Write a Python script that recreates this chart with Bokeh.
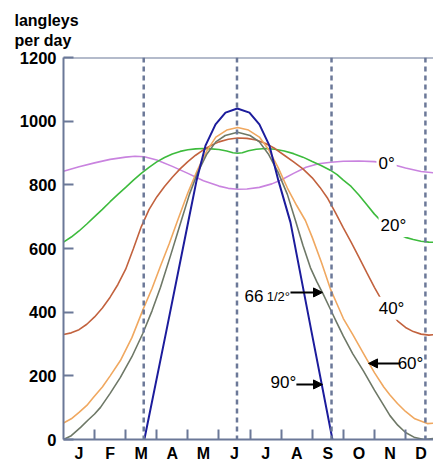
from bokeh.plotting import figure
from bokeh.models import (Range1d, FixedTicker, Span, Label, Arrow, NormalHead)
from bokeh.embed import file_html
from bokeh.resources import INLINE

# ---------------- data (x in months from Jan 1, y in langleys/day) -------------
months = ["J", "F", "M", "A", "M", "J", "J", "A", "S", "O", "N", "D"]
y_ticks = [0, 200, 400, 600, 800, 1000, 1200]
solstice_equinox = [2.58, 5.58, 8.62, 11.64]

lat0_x = [0, 0.5, 1.0, 1.5, 2.0, 2.3, 2.6, 3.0, 3.5, 4.0, 4.5, 5.0, 5.3, 5.6, 5.9,
          6.3, 6.7, 7.0, 7.4, 7.8, 8.2, 8.6, 9.0, 9.5, 10.0, 10.5, 11.0, 11.5, 12.0]
lat0_y = [843, 857, 869, 880, 887, 890, 888, 878, 858, 836, 813, 796, 789, 786, 787,
          792, 803, 815, 836, 855, 866, 871, 874, 875, 873, 866, 853, 842, 837]

lat20_x = [0, 0.25, 0.5, 0.75, 1.0, 1.25, 1.5, 1.75, 2.0, 2.25, 2.5, 2.75, 3.0, 3.25,
           3.5, 3.75, 4.0, 4.25, 4.5, 4.75, 5.0, 5.25, 5.45, 5.6, 5.75, 5.95, 6.2,
           6.5, 6.8, 7.1, 7.4, 7.7, 8.0, 8.3, 8.58, 8.8, 9.0, 9.25, 9.5, 9.75, 10.0,
           10.25, 10.5, 10.75, 11.0, 11.25, 11.5, 11.75, 12.0]
lat20_y = [620, 636, 655, 677, 700, 723, 747, 770, 792, 815, 836, 855, 872, 886,
           897, 905, 910, 913, 914, 913, 911, 906, 901, 899, 901, 907, 912,
           914, 912, 906, 898, 887, 873, 860, 846, 832, 815, 795, 768, 738, 708,
           683, 662, 646, 635, 628, 623, 620, 619]

lat40_x = [0, 0.25, 0.5, 0.75, 1.0, 1.25, 1.5, 1.75, 2.0, 2.25, 2.5, 2.75, 3.0, 3.25,
           3.5, 3.75, 4.0, 4.25, 4.5, 4.75, 5.0, 5.3, 5.6, 5.9, 6.2, 6.5, 6.8, 7.1,
           7.4, 7.7, 8.0, 8.25, 8.5, 8.75, 9.0, 9.25, 9.5, 9.75, 10.0, 10.25, 10.5,
           10.75, 11.0, 11.25, 11.5, 11.75, 12.0]
lat40_y = [330, 335, 345, 362, 385, 413, 447, 487, 535, 600, 668, 722, 762, 795,
           824, 850, 873, 893, 910, 924, 935, 943, 947, 946, 941, 930, 914, 893,
           872, 850, 822, 792, 757, 712, 665, 620, 573, 525, 478, 435, 400,
           372, 352, 339, 331, 328, 330]

lat60_x = [0, 0.25, 0.5, 0.75, 0.96, 1.25, 1.5, 1.83, 2.2, 2.57, 2.85, 3.12, 3.4,
           3.67, 4.0, 4.3, 4.6, 4.9, 5.25, 5.6, 5.95, 6.3, 6.6, 6.9, 7.2, 7.5, 7.78,
           8.0, 8.3, 8.58, 8.8, 9.0, 9.3, 9.65, 10.0, 10.3, 10.5, 10.74, 11.0, 11.3,
           11.7, 12.0]
lat60_y = [52, 65, 85, 107, 132, 165, 200, 248, 320, 411, 475, 545, 615,
           688, 775, 845, 905, 950, 972, 980, 972, 950, 910, 855, 790, 735, 688,
           635, 555, 474, 425, 380, 330, 270, 210, 165, 140, 113, 88, 65,
           50, 52]

lat66_x = [0, 0.25, 0.55, 0.8, 1.0, 1.19, 1.5, 1.83, 2.2, 2.55, 2.85, 3.12, 3.45,
           3.79, 4.05, 4.3, 4.6, 4.9, 5.2, 5.6, 6.0, 6.3, 6.6, 6.9, 7.2, 7.46, 7.7,
           7.94, 8.15, 8.36, 8.58, 8.8, 9.0, 9.3, 9.65, 10.0, 10.25, 10.5, 10.75,
           11.0, 11.3, 11.6, 12.0]
lat66_y = [0, 12, 38, 62, 80, 101, 145, 195, 260, 333, 405, 478, 580,
           688, 770, 835, 895, 935, 955, 965, 955, 935, 895, 840, 770, 688, 610,
           540, 495, 455, 410, 365, 325, 270, 215, 155, 115, 75, 45,
           22, 6, 0, 4]

lat90_x = [2.6, 3.31, 4.02, 4.28, 4.57, 4.89, 5.21, 5.59, 5.98, 6.30, 6.62, 6.91,
           7.30, 7.97, 8.65]
lat90_y = [0, 342, 688, 814, 924, 990, 1027, 1040, 1027, 990, 924, 814,
           682, 342, 0]

AXIS = "#6b7898"
FONT = "Liberation Sans"

p = figure(width=433, height=464, output_backend="svg", toolbar_location=None,
           x_range=Range1d(0, 11.9), y_range=Range1d(0, 1200),
           min_border_left=63, min_border_right=0, min_border_top=57,
           min_border_bottom=25)
p.outline_line_color = None
p.grid.visible = False
p.background_fill_color = "white"
p.border_fill_color = "white"

# title as y-axis unit label
p.title.text = "langleys\nper day"
p.title.align = "left"
p.title.offset = -49
p.title.standoff = 17
p.title.text_font = FONT
p.title.text_font_size = "16px"
p.title.text_font_style = "bold"
p.title.text_color = "black"
p.title.text_line_height = 1.2

# x axis
xa = p.xaxis[0]
xa.ticker = FixedTicker(ticks=[i + 0.5 for i in range(12)],
                        minor_ticks=[float(i) for i in range(1, 12)])
xa.major_label_overrides = {i + 0.5: m for i, m in enumerate(months)}
xa.major_tick_in = 0
xa.major_tick_out = 0
xa.minor_tick_in = 10
xa.minor_tick_out = 0
xa.minor_tick_line_color = AXIS
xa.minor_tick_line_width = 2
xa.axis_line_color = AXIS
xa.axis_line_width = 2
xa.major_label_standoff = 5
xa.major_label_text_font = FONT
xa.major_label_text_font_size = "16px"
xa.major_label_text_font_style = "bold"
xa.major_label_text_color = "black"

# y axis
ya = p.yaxis[0]
ya.ticker = FixedTicker(ticks=y_ticks)
ya.major_tick_in = 10
ya.major_tick_out = 0
ya.minor_tick_line_color = None
ya.major_tick_line_color = AXIS
ya.major_tick_line_width = 2
ya.axis_line_color = AXIS
ya.axis_line_width = 2
ya.major_label_standoff = 7
ya.major_label_text_font = FONT
ya.major_label_text_font_size = "16.5px"
ya.major_label_text_font_style = "bold"
ya.major_label_text_color = "black"

# top border
p.add_layout(Span(location=1200, dimension="width", line_color=AXIS, line_width=2))

# solstice / equinox dashed lines
for loc in solstice_equinox:
    p.add_layout(Span(location=loc, dimension="height", line_color=AXIS,
                      line_width=2.5, line_dash="5 4"))

# curves
p.line(lat0_x, lat0_y, line_color="#c983df", line_width=1.6)
p.line(lat20_x, lat20_y, line_color="#3dbb3d", line_width=1.6)
p.line(lat40_x, lat40_y, line_color="#c2623e", line_width=1.6)
p.line(lat60_x, lat60_y, line_color="#f0a860", line_width=1.6)
p.line(lat66_x, lat66_y, line_color="#6e7867", line_width=1.6)
p.line(lat90_x, lat90_y, line_color="#1c1c9c", line_width=2)

# labels
def lab(x, y, t, size="17px", align="center", baseline="middle", bg=None):
    L = Label(x=x, y=y, text=t, text_font=FONT, text_font_size=size,
              text_color="black", text_align=align, text_baseline=baseline,
              background_fill_color=bg, padding=2)
    p.add_layout(L)

lab(10.39, 867, "0°", bg="white")
lab(10.61, 672, "20°", bg="white")
lab(10.55, 412, "40°", bg="white")
lab(11.16, 239, "60°")
lab(5.76, 450, "66", align="left", baseline="alphabetic")
lab(6.47, 450, "1/2°", size="13px", align="left", baseline="alphabetic")
lab(7.07, 179, "90°")

for xs, xe, yy in [(10.84, 9.81, 239), (7.30, 8.33, 462), (7.49, 8.33, 173)]:
    p.add_layout(Arrow(x_start=xs, y_start=yy, x_end=xe, y_end=yy,
                       line_color="black", line_width=2,
                       end=NormalHead(size=9, fill_color="black", line_color="black")))

open("out.html", "w").write(file_html(p, INLINE))
